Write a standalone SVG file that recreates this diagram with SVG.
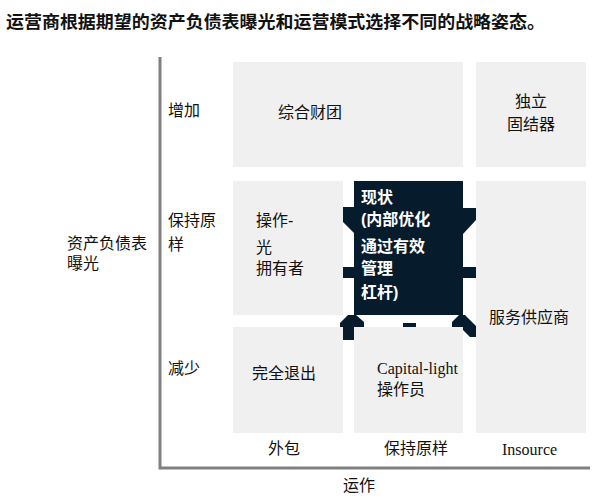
<svg xmlns="http://www.w3.org/2000/svg" width="597" height="504" viewBox="0 0 597 504">
<style>
.t{font-family:"Liberation Sans","Noto Sans CJK SC",sans-serif;font-size:16px;fill:#111}
.s{font-family:"Liberation Serif","Noto Sans CJK SC",serif;font-size:16px;fill:#111}
.w{font-family:"Liberation Sans","Noto Sans CJK SC",sans-serif;font-size:16px;fill:#fff;font-weight:bold}
.title{font-family:"Liberation Sans","Noto Sans CJK SC",sans-serif;font-size:17.4px;font-weight:bold;fill:#111}
.cell{fill:#f0f0f0}
.dk{fill:#061b2c}
.ax{stroke:#808080;stroke-width:3;fill:none}
</style>
<rect width="597" height="504" fill="#fff"/>
<text class="title" x="6" y="28" textLength="539" lengthAdjust="spacingAndGlyphs">运营商根据期望的资产负债表曝光和运营模式选择不同的战略姿态。</text>
<g id="axes" class="ax">
<polyline points="160,57 160,468 590,468"/>
</g>
<g id="decor" class="dk">
<polygon points="343,207 354,207 354,233 343,222"/>
<rect x="343" y="267" width="11" height="11"/>
<polygon points="340,323 348,315 356,315 364,322 364,327 354,327 354,340 343,340 343,327 340,327"/>
<polygon points="463,208 476,208 476,220 463,234"/>
<rect x="463" y="267" width="13" height="11"/>
<polygon points="452,322 459,315 465,315 476,326 476,337 470,337 463,330 463,327 452,327"/>
<rect x="403" y="323" width="13" height="4"/>
</g>
<g id="labels">
<text class="t" x="168" y="116">增加</text>
<text class="t" x="168" y="226">保持原</text>
<text class="t" x="168" y="250">样</text>
<text class="t" x="168" y="374">减少</text>
<text class="t" x="67" y="249">资产负债表</text>
<text class="t" x="67" y="269">曝光</text>
<text class="t" x="268" y="454">外包</text>
<text class="t" x="384" y="454">保持原样</text>
<text class="s" x="502" y="455">Insource</text>
<text class="t" x="343" y="491">运作</text>
</g>
<g id="node-conglomerate">
<rect class="cell" x="233" y="62" width="230" height="105"/>
<text class="t" x="278" y="118">综合财团</text>
</g>
<g id="node-independent">
<rect class="cell" x="476" y="62" width="110" height="105"/>
<text class="t" x="531" y="107" text-anchor="middle">独立</text>
<text class="t" x="531" y="130" text-anchor="middle">固结器</text>
</g>
<g id="node-opco">
<rect class="cell" x="233" y="181" width="110" height="134"/>
<text class="t" x="256" y="226">操作-</text>
<text class="t" x="256" y="253">光</text>
<text class="t" x="256" y="274">拥有者</text>
</g>
<g id="node-status">
<rect class="dk" x="354" y="181" width="109" height="134"/>
<text class="w" x="361" y="203">现状</text>
<text class="w" x="361" y="225">(内部优化</text>
<text class="w" x="361" y="252">通过有效</text>
<text class="w" x="361" y="274">管理</text>
<text class="w" x="361" y="298">杠杆)</text>
</g>
<g id="node-service">
<rect class="cell" x="476" y="181" width="110" height="252"/>
<text class="t" x="489" y="323">服务供应商</text>
</g>
<g id="node-exit">
<rect class="cell" x="233" y="327" width="110" height="106"/>
<text class="t" x="252" y="379">完全退出</text>
</g>
<g id="node-caplight">
<rect class="cell" x="354" y="327" width="109" height="106"/>
<text class="s" x="377" y="374">Capital-light</text>
<text class="t" x="377" y="395">操作员</text>
</g>
</svg>
